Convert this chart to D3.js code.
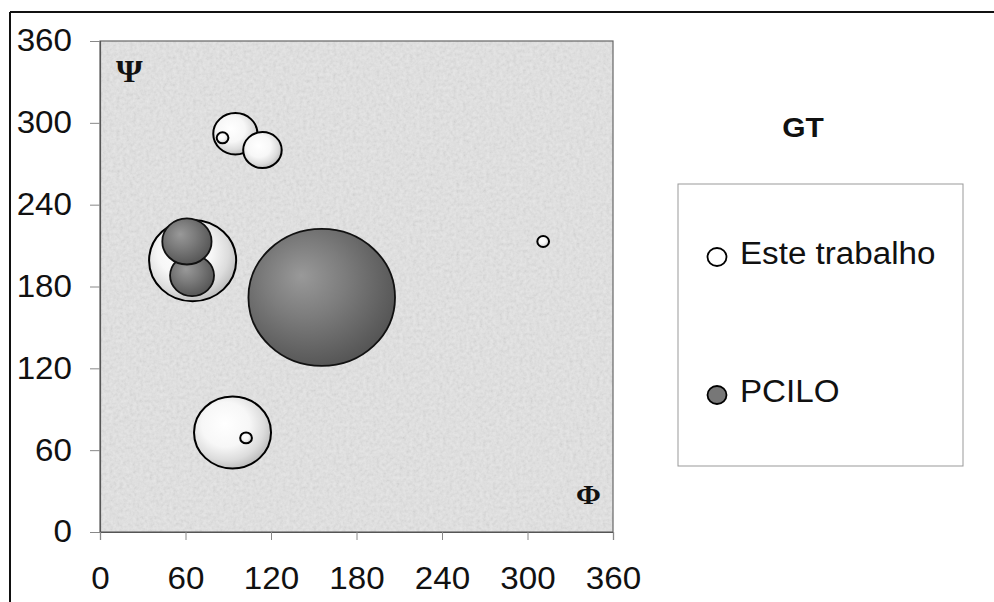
<!DOCTYPE html>
<html>
<head>
<meta charset="utf-8">
<script src="https://cdn.jsdelivr.net/npm/d3@7"></script>
<style>
  html, body { margin: 0; padding: 0; background: #ffffff; }
  svg { display: block; }
</style>
</head>
<body>
<svg id="chart" width="994" height="602"></svg>
<script>
// ---- data ----
const xTicks = [0, 60, 120, 180, 240, 300, 360];
const yTicks = [0, 60, 120, 180, 240, 300, 360];
const seriesNames = ["Este trabalho", "PCILO"];
// Este trabalho bubbles (Φ, Ψ, size)
const esteX    = [65, 93, 95, 114, 86, 102.5, 311];
const esteY    = [199, 73, 292, 280, 289, 69, 213];
const esteSize = [35.3, 27.6, 9.1, 6.9, 0.64, 0.64, 0.64];
// PCILO bubbles
const pciloX    = [155.6, 64.6, 61];
const pciloY    = [172, 188, 213];
const pciloSize = [100, 9.0, 11.3];
const legendTitle = "GT";
const axisLabelX = "Φ";
const axisLabelY = "Ψ";

// ---- layout ----
const SANS = "'Liberation Sans', Arial, sans-serif";
const SERIF = "'Liberation Serif', 'Times New Roman', serif";
const svg = d3.select("#chart");
const plot = { left: 100, right: 613, top: 41, bottom: 532 };
const stretch = 1.07; // horizontal stretch of the original picture
const x = d3.scaleLinear().domain([0, 360]).range([plot.left, plot.right]);
const y = d3.scaleLinear().domain([0, 360]).range([plot.bottom, plot.top]);
const r = d3.scaleSqrt().domain([0, 100]).range([0, 68.5]);

const defs = svg.append("defs");
const gW = defs.append("radialGradient").attr("id", "gWhite")
  .attr("cx", "42%").attr("cy", "40%").attr("r", "62%").attr("fx", "40%").attr("fy", "38%");
gW.append("stop").attr("offset", "0%").attr("stop-color", "#ffffff");
gW.append("stop").attr("offset", "50%").attr("stop-color", "#f7f7f7");
gW.append("stop").attr("offset", "80%").attr("stop-color", "#dcdcdc");
gW.append("stop").attr("offset", "100%").attr("stop-color", "#bdbdbd");
const gD = defs.append("radialGradient").attr("id", "gDark")
  .attr("cx", "42%").attr("cy", "40%").attr("r", "62%").attr("fx", "36%").attr("fy", "34%");
gD.append("stop").attr("offset", "0%").attr("stop-color", "#999999");
gD.append("stop").attr("offset", "45%").attr("stop-color", "#7c7c7c");
gD.append("stop").attr("offset", "100%").attr("stop-color", "#555555");

const noise = defs.append("filter").attr("id", "noise")
  .attr("x", 0).attr("y", 0).attr("width", "100%").attr("height", "100%");
noise.append("feTurbulence").attr("type", "fractalNoise").attr("baseFrequency", 0.3)
  .attr("numOctaves", 3).attr("seed", 4).attr("result", "t");
noise.append("feColorMatrix").attr("type", "matrix")
  .attr("values", "1 0 0 0 0  1 0 0 0 0  1 0 0 0 0  0 0 0 0 0.14");

// outer frame (top and left lines)
svg.append("line").attr("x1", 10).attr("x2", 994).attr("y1", 12).attr("y2", 12)
  .attr("stroke", "#111").attr("stroke-width", 2);
svg.append("line").attr("x1", 10).attr("x2", 10).attr("y1", 12).attr("y2", 602)
  .attr("stroke", "#111").attr("stroke-width", 2);

// plot background
const pw = plot.right - plot.left, ph = plot.bottom - plot.top;
svg.append("rect").attr("x", plot.left).attr("y", plot.top)
  .attr("width", pw).attr("height", ph).attr("fill", "#e4e4e4");
svg.append("rect").attr("x", plot.left).attr("y", plot.top)
  .attr("width", pw).attr("height", ph)
  .attr("fill", "#ffffff").attr("filter", "url(#noise)");
svg.append("rect").attr("x", plot.left).attr("y", plot.top)
  .attr("width", pw).attr("height", ph)
  .attr("fill", "none").attr("stroke", "#666").attr("stroke-width", 1.2);

// axes
const yAxis = svg.append("g").attr("transform", `translate(${plot.left},0)`)
  .call(d3.axisLeft(y).tickValues(yTicks).tickSize(10).tickPadding(18).tickFormat(d3.format("d")));
const xAxis = svg.append("g").attr("transform", `translate(0,${plot.bottom})`)
  .call(d3.axisBottom(x).tickValues(xTicks).tickSize(8).tickPadding(27).tickFormat(d3.format("d")));
[xAxis, yAxis].forEach(a => {
  a.attr("font-family", null).attr("font-size", null);
  a.select(".domain").attr("stroke", "#555").attr("stroke-width", 1.2);
  a.selectAll(".tick line").attr("stroke", "#888").attr("stroke-width", 1);
  a.selectAll(".tick text").style("font-size", "31px").style("fill", "#111")
    .style("font-family", SANS);
});
xAxis.selectAll(".tick text").each(function() {
  const t = d3.select(this);
  t.attr("transform", `translate(${t.attr("x") || 0},0) scale(${stretch},1)`);
});
yAxis.selectAll(".tick text").each(function() {
  const t = d3.select(this);
  const xx = +t.attr("x");
  t.attr("x", 0).attr("transform", `translate(${xx},0) scale(${stretch},1)`);
});

// bubbles
const este = esteX.map((v, i) => ({ x: v, y: esteY[i], s: esteSize[i] }));
const pcilo = pciloX.map((v, i) => ({ x: v, y: pciloY[i], s: pciloSize[i] }));
const gB = svg.append("g");
gB.selectAll("ellipse.este").data(este).join("ellipse").attr("class", "este")
  .attr("cx", d => x(d.x)).attr("cy", d => y(d.y))
  .attr("rx", d => r(d.s) * stretch).attr("ry", d => r(d.s))
  .attr("fill", "url(#gWhite)").attr("stroke", "#000").attr("stroke-width", 2);
gB.selectAll("ellipse.pcilo").data(pcilo).join("ellipse").attr("class", "pcilo")
  .attr("cx", d => x(d.x)).attr("cy", d => y(d.y))
  .attr("rx", d => r(d.s) * stretch).attr("ry", d => r(d.s))
  .attr("fill", "url(#gDark)").attr("stroke", "#111").attr("stroke-width", 1.8);

// texts
function stretchedText(g, tx, ty, txt, family, size, weight) {
  return g.append("text").attr("transform", `translate(${tx},${ty}) scale(${stretch},1)`)
    .style("font-family", family).style("font-size", size + "px")
    .style("font-weight", weight || "normal").style("fill", "#111").text(txt);
}
stretchedText(svg, 116, 82, axisLabelY, SERIF, 32, "bold");
stretchedText(svg, 576, 504, axisLabelX, SERIF, 28, "bold");

// legend
stretchedText(svg, 803, 137, legendTitle, SANS, 28, "bold").attr("text-anchor", "middle");
svg.append("rect").attr("x", 678).attr("y", 184).attr("width", 285).attr("height", 282)
  .attr("fill", "#fff").attr("stroke", "#999").attr("stroke-width", 1);
const legY = d3.scalePoint().domain(seriesNames).range([257, 395]);
const legFill = { "Este trabalho": "#ffffff", "PCILO": "#777777" };
seriesNames.forEach(n => {
  svg.append("ellipse").attr("cx", 717).attr("cy", legY(n)).attr("rx", 9.5).attr("ry", 9)
    .attr("fill", legFill[n]).attr("stroke", "#000").attr("stroke-width", 1.8);
  stretchedText(svg, 740, legY(n) + 7, n, SANS, 31);
});
</script>
</body>
</html>
